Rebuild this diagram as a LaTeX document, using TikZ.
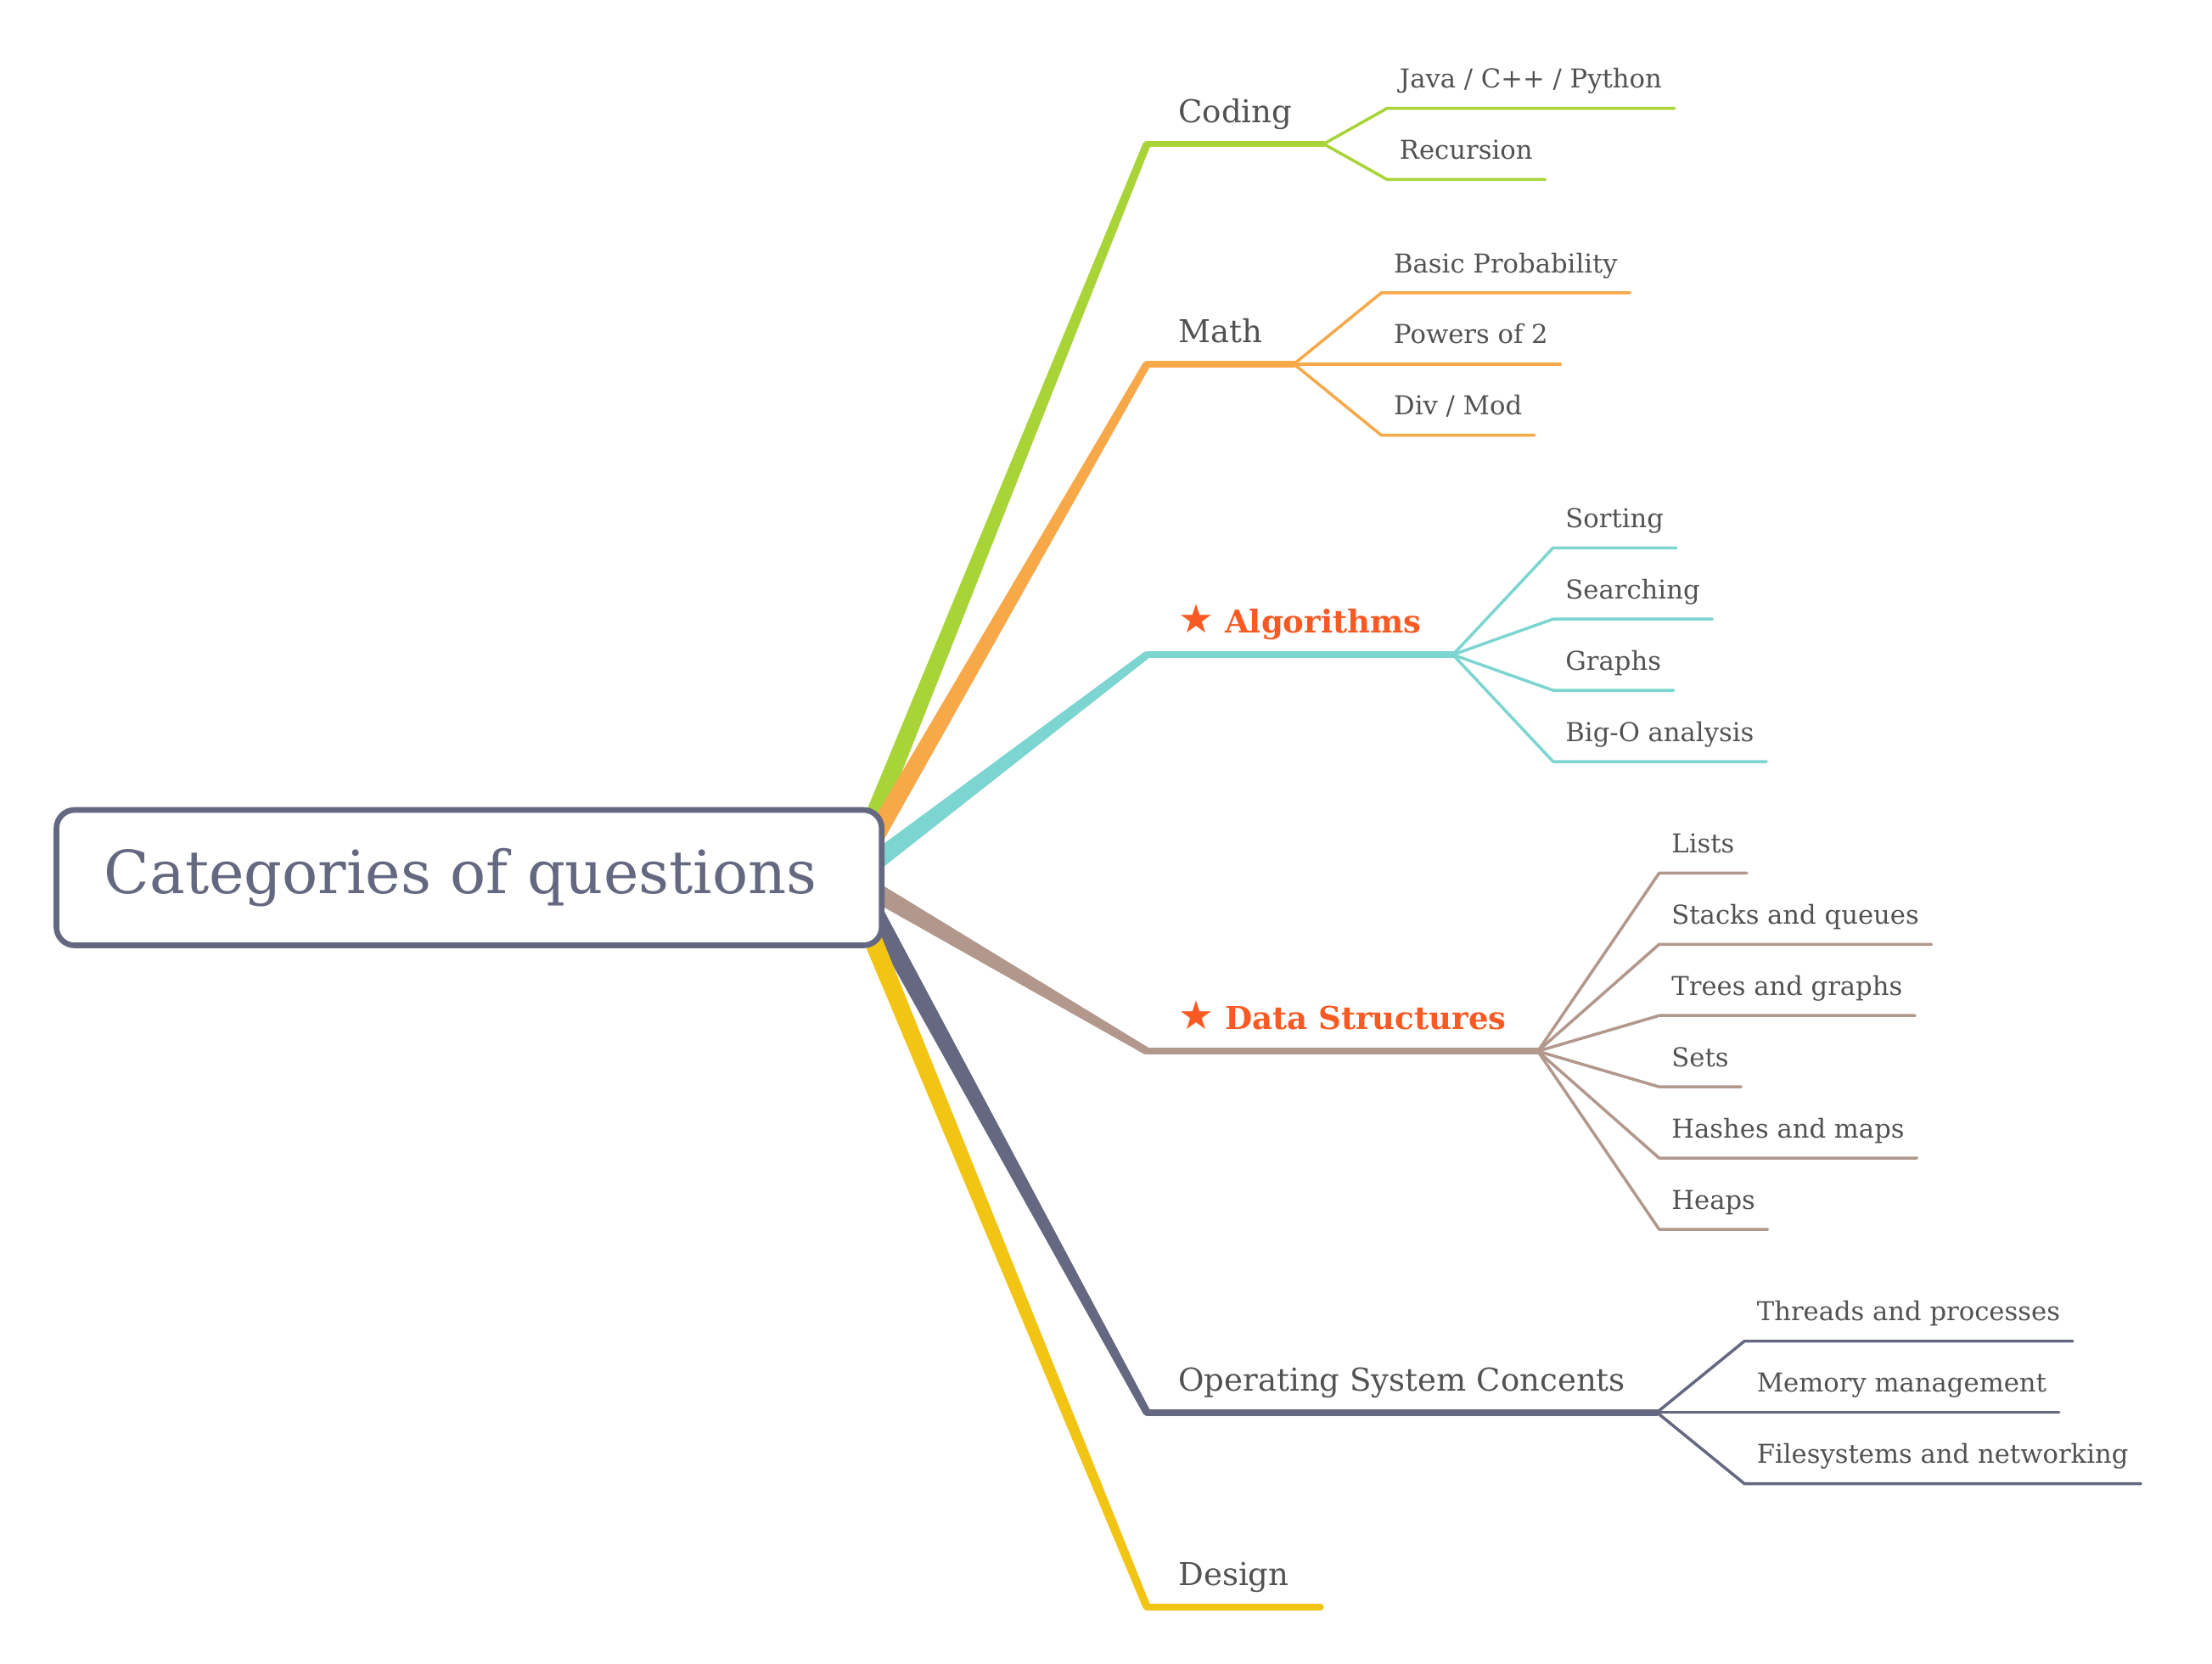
\documentclass[tikz,border=0pt]{standalone}
\usepackage{fontspec}
\setmainfont{DejaVu Serif}
\newfontfamily\starfont{DejaVu Sans}
\usetikzlibrary{calc,backgrounds}
\definecolor{cgreen}{RGB}{168,212,56}
\definecolor{corange}{RGB}{247,168,72}
\definecolor{cteal}{RGB}{124,213,208}
\definecolor{cbrown}{RGB}{178,152,140}
\definecolor{cslate}{RGB}{100,104,128}
\definecolor{cyellow}{RGB}{242,197,20}
\definecolor{cink}{RGB}{82,82,82}
\definecolor{chot}{RGB}{249,90,35}

\begin{document}
\begin{tikzpicture}[
        x=0.2mm, y=-0.2mm,
        title/.style={draw=cslate, line width=0.8mm, rounded corners=2.6mm, fill=white,
            minimum width=117mm, minimum height=19.2mm, text=cslate,
            font=\fontsize{24}{28}\selectfont},
        topic/.style={anchor=south west, inner xsep=4.4mm, inner ysep=3mm, text depth=0pt,
            text=cink, font=\fontsize{12.7}{15}\selectfont},
        hot/.style={topic, text=chot, font=\fontsize{12.7}{15}\selectfont\bfseries},
        sub/.style={anchor=south west, inner xsep=1.7mm, inner ysep=2.8mm, text depth=0pt,
            text=cink, font=\fontsize{10.5}{13}\selectfont},
        trunk/.style={line width=0.95mm, line cap=round},
        twig/.style={line width=0.42mm, line cap=round, line join=round}
    ]
    \useasboundingbox (0,0) rectangle (1568,1179);

    \node[title] (root) at (332.5,622) {Categories of questions\kern2.4mm};

    \coordinate (coding-s) at ($(root.east)+(-16,-22)$);
    \coordinate (math-s) at ($(root.east)+(-11,-22)$);
    \coordinate (algo-s) at ($(root.east)+(-15,-5)$);
    \coordinate (data-s) at ($(root.east)+(-15,5)$);
    \coordinate (os-s) at ($(root.east)+(-11,18)$);
    \coordinate (design-s) at ($(root.east)+(-19,18)$);

    \coordinate (coding-e) at (813,102);
    \coordinate (math-e) at (813,258);
    \coordinate (algo-e) at (813,464);
    \coordinate (data-e) at (813,745);
    \coordinate (os-e) at (813,1001);
    \coordinate (design-e) at (813,1139);

    \begin{scope}[on background layer]
        \foreach \br/\col in {coding/cgreen, math/corange, algo/cteal, data/cbrown, os/cslate, design/cyellow}
            \fill[\col] ($(\br-s)!1.35mm!90:(\br-e)$) -- ($(\br-e)!0.55mm!-90:(\br-s)$)
                -- ($(\br-e)!0.55mm!90:(\br-s)$) -- ($(\br-s)!1.35mm!-90:(\br-e)$) -- cycle;
    \end{scope}

    \node[topic] (coding) at (coding-e) {Coding};
    \node[topic] (math) at (math-e) {Math};
    \node[hot] (algo) at (algo-e) {{\starfont\fontsize{16}{16}\selectfont ★} Algorithms};
    \node[hot] (data) at (data-e) {{\starfont\fontsize{16}{16}\selectfont ★} Data Structures};
    \node[topic] (os) at (os-e) {Operating System Concents};
    \node[topic] (design) at (design-e) {Design};

    \draw[trunk, cgreen] (coding.south west) -- (coding.south east);
    \draw[trunk, corange] (math.south west) -- (math.south east);
    \draw[trunk, cteal] (algo.south west) -- (algo.south east);
    \draw[trunk, cbrown] (data.south west) -- (data.south east);
    \draw[trunk, cslate] (os.south west) -- (os.south east);
    \draw[trunk, cyellow] (design.south west) -- (design.south east);

    \foreach \t [count=\i] in {{Java / C++ / Python}, Recursion} {
        \node[sub] (coding-\i) at ($(coding.south east)+(45,{(\i-1.5)*50.5})$) {\t};
        \draw[twig, cgreen] (coding.south east) -- (coding-\i.south west) -- (coding-\i.south east);
    }
    \foreach \t [count=\i] in {Basic Probability, Powers of 2, {Div / Mod}} {
        \node[sub] (math-\i) at ($(math.south east)+(62,{(\i-2)*50.5})$) {\t};
        \draw[twig, corange] (math.south east) -- (math-\i.south west) -- (math-\i.south east);
    }
    \foreach \t [count=\i] in {Sorting, Searching, Graphs, Big-O analysis} {
        \node[sub] (algo-\i) at ($(algo.south east)+(71,{(\i-2.5)*50.5})$) {\t};
        \draw[twig, cteal] (algo.south east) -- (algo-\i.south west) -- (algo-\i.south east);
    }
    \foreach \t [count=\i] in {Lists, Stacks and queues, Trees and graphs, Sets, Hashes and maps, Heaps} {
        \node[sub] (data-\i) at ($(data.south east)+(86,{(\i-3.5)*50.5})$) {\t};
        \draw[twig, cbrown] (data.south east) -- (data-\i.south west) -- (data-\i.south east);
    }
    \foreach \t [count=\i] in {Threads and processes, Memory management, Filesystems and networking} {
        \node[sub] (os-\i) at ($(os.south east)+(62,{(\i-2)*50.5})$) {\t};
        \draw[twig, cslate] (os.south east) -- (os-\i.south west) -- (os-\i.south east);
    }
\end{tikzpicture}
\end{document}
